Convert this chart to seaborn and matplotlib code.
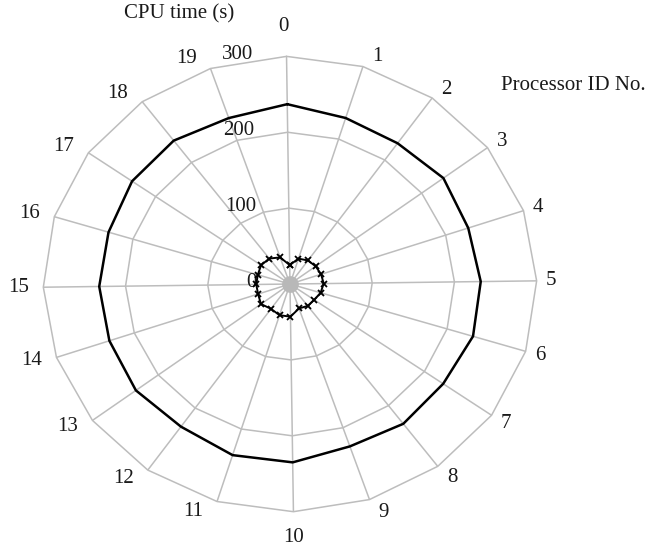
import numpy as np
import pandas as pd
import matplotlib
matplotlib.use("Agg")
import matplotlib.pyplot as plt
import matplotlib.transforms as mtransforms
import seaborn as sns

# Processor IDs and measured CPU times (s)
processor_ids = list(range(20))
cpu_time_outer = [237, 229, 227, 233, 229, 232, 233, 228, 230, 226,
                  235, 236, 230, 234, 232, 232, 231, 235, 236, 231]
cpu_time_inner = [25, 35, 38, 39, 40, 41, 39, 36, 36, 34,
                  43, 43, 40, 44, 41, 41, 41, 43, 42, 37]
radial_ticks = [0, 100, 200, 300]

sns.set_style("white")
plt.rcParams["font.family"] = ["Liberation Serif", "DejaVu Serif"]

GRID = "#bdbdbd"
TXT = "#1a1a1a"
FS = 15
n = len(processor_ids)
theta = np.arange(n) * 2 * np.pi / n
theta_closed = np.append(theta, 2 * np.pi)
rmax = radial_ticks[-1]

fig = plt.figure(figsize=(6.48, 5.46), dpi=100)
ax = fig.add_axes([0.0668, 0.0628, 0.7614, 0.834], projection="polar")
ax.set_aspect("auto")
ax.set_theta_direction(-1)
ax.set_theta_offset(np.pi / 2 + np.deg2rad(0.8))
ax.set_ylim(0, rmax)

# spokes via theta grid, polygonal rings drawn as closed lines
ax.set_xticks(theta)
ax.set_xticklabels([])
ax.set_yticks([])
ax.xaxis.grid(True, color=GRID, linewidth=1.1)
ax.yaxis.grid(False)
ax.spines["polar"].set_visible(False)

for rv in radial_ticks[1:]:
    ax.plot(theta_closed, np.full(len(theta_closed), rv), color=GRID,
            linewidth=1.1, clip_on=False, zorder=1)
ax.plot([0], [0], marker="o", markersize=11, color="#b8b8b8", zorder=2)

df_outer = pd.DataFrame({"theta": theta_closed,
                         "cpu": cpu_time_outer + cpu_time_outer[:1]})
df_inner = pd.DataFrame({"theta": theta_closed,
                         "cpu": cpu_time_inner + cpu_time_inner[:1]})

sns.lineplot(data=df_outer, x="theta", y="cpu", ax=ax, sort=False,
             color="black", linewidth=1.8, zorder=3)
sns.lineplot(data=df_inner, x="theta", y="cpu", ax=ax, sort=False,
             color="black", linewidth=1.4, marker="x", markersize=5,
             markeredgewidth=1.3, markeredgecolor="black", zorder=4)
ax.set_xlabel("")
ax.set_ylabel("")


def offset(dx, dy):
    return mtransforms.offset_copy(ax.transData, fig=fig, x=dx, y=dy,
                                   units="dots")


# processor labels just outside the outer ring
for i, t in zip(processor_ids, theta):
    s, c = np.sin(t), np.cos(t)
    if abs(s) < 1e-6:
        va = "bottom" if c > 0 else "top"
        tr = offset(-3, 20) if c > 0 else offset(0, -16)
        ha = "center"
    elif s > 0:
        dy = 11 * c if c > 0 else 14 * c
        ha, va, tr = "left", "center", offset(9, dy)
    else:
        ha, va, tr = "right", "center", offset(-14, 10 * c)
    ax.text(t, rmax, str(i), transform=tr, ha=ha, va=va, fontsize=FS,
            color=TXT, clip_on=False)

# radial scale labels left of spoke 0
for rv in radial_ticks:
    ax.text(0, rv, str(rv), transform=offset(-33, 2), ha="right",
            va="center", fontsize=FS, color=TXT, clip_on=False)

fig.text(179 / 648, 1 - 14 / 546, "CPU time (s)", ha="center", va="center",
         fontsize=FS, color=TXT)
fig.text(573 / 648, 1 - 85 / 546, "Processor ID No.", ha="center",
         va="center", fontsize=FS, color=TXT)

fig.savefig("out.png", dpi=100, facecolor="white")
